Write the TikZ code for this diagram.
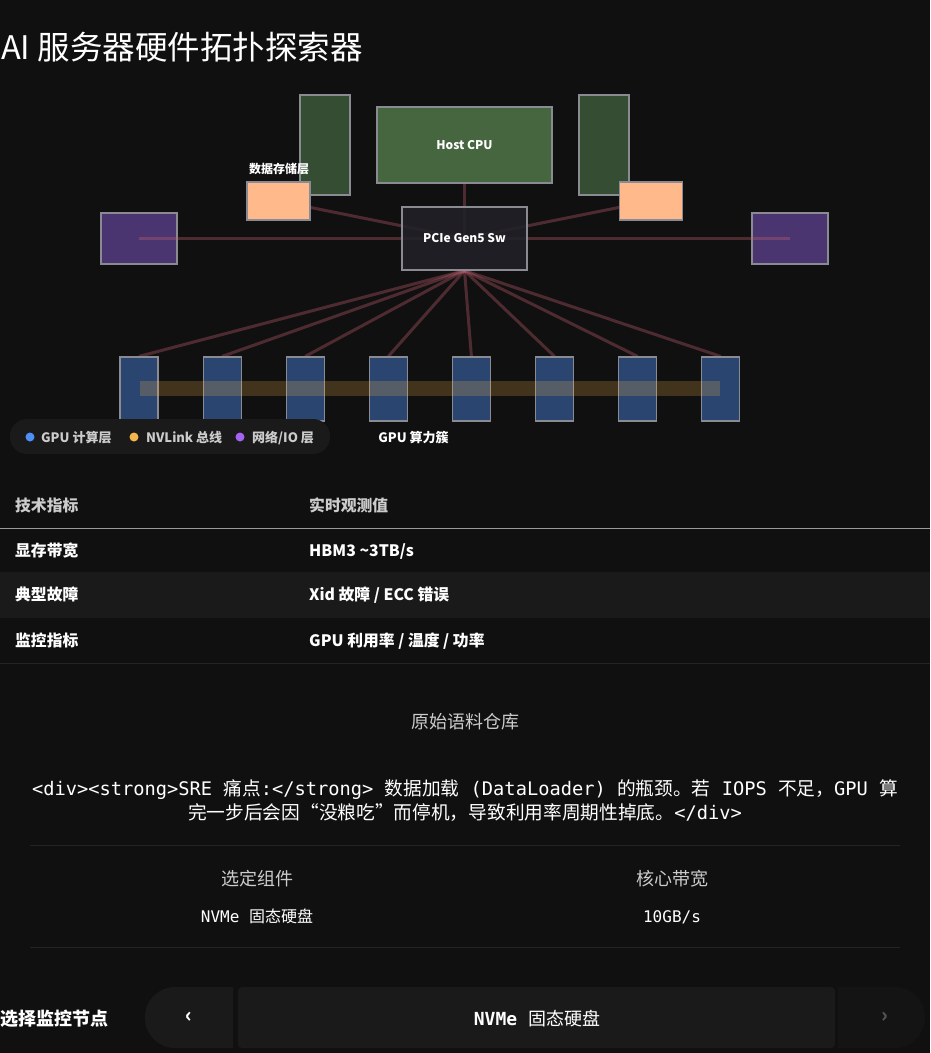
\documentclass[tikz,border=0pt]{standalone}
\usepackage{fontspec}
\setmainfont{Noto Sans CJK SC}
\setmonofont{DejaVu Sans Mono}
\usetikzlibrary{positioning}

\definecolor{pagebg}{HTML}{101010}
\definecolor{framegray}{HTML}{8A8A92}
\definecolor{darkgreen}{HTML}{344D33}
\definecolor{cpugreen}{HTML}{46663F}
\definecolor{ssdorange}{HTML}{FFB98A}
\definecolor{nicpurple}{HTML}{4A3570}
\definecolor{swgray}{HTML}{202127}
\definecolor{gpublue}{HTML}{2A4570}
\definecolor{linkred}{HTML}{C06070}
\definecolor{nvgold}{HTML}{F5B54A}
\definecolor{pillgray}{HTML}{1A1A1A}
\definecolor{pilldark}{HTML}{141414}
\definecolor{textgray}{HTML}{CCCCCC}
\definecolor{dotblue}{HTML}{4D8EF7}
\definecolor{dotorange}{HTML}{F5B54A}
\definecolor{dotpurple}{HTML}{A463F5}
\definecolor{headrule}{HTML}{9A9A9A}
\definecolor{faintrule}{HTML}{242424}
\definecolor{rowgray}{HTML}{1A1A1A}
\definecolor{arrowgray}{HTML}{555555}

\newcommand\fsz[1]{\fontsize{#1}{#1}\selectfont}
\newcommand\mt[1]{{\ttfamily #1}}

\pgfdeclarelayer{bg}
\pgfdeclarelayer{lower}
\pgfdeclarelayer{links}
\pgfsetlayers{bg,lower,links,main}

\begin{document}
\begin{tikzpicture}[x=1pt, y=-1pt,
  box/.style={draw=framegray, line width=1.2pt, inner sep=0pt},
  tallbox/.style={box, fill=darkgreen, minimum width=50pt, minimum height=100pt},
  ssd/.style={box, fill=ssdorange, minimum width=63pt, minimum height=38pt},
  nic/.style={box, fill=nicpurple, minimum width=76pt, minimum height=51pt},
  gpu/.style={box, fill=gpublue, minimum width=38pt, minimum height=64pt},
  link/.style={draw=linkred, draw opacity=0.35, line width=3pt},
  tag/.style={text=white, font=\bfseries\fsz{12}},
  legdot/.style={circle, minimum size=9pt, inner sep=0pt},
  legtxt/.style={text=textgray, font=\bfseries\fsz{13}, anchor=base west, inner sep=0pt},
  head/.style={text=textgray, font=\bfseries\fsz{15.8}, anchor=base west, inner sep=0pt},
  cell/.style={text=white, font=\bfseries\fsz{15.8}, anchor=base west, inner sep=0pt},
  center text/.style={anchor=base, inner sep=0pt}]
  % fondo
  \begin{pgfonlayer}{bg}
    \fill[pagebg] (0,0) rectangle (930,1053);
  \end{pgfonlayer}
  \useasboundingbox (0,0) rectangle (930,1053);
  \node[anchor=base west, inner sep=0pt, text=white, font=\fsz{32.5}] (title) at (1,59) {AI 服务器硬件拓扑探索器};

  % host
  \node[tallbox] (mem1) at (325,145) {};
  \node[tallbox] (mem2) at (604,145) {};
  \node[box, fill=cpugreen, minimum width=175pt, minimum height=76pt, tag] (cpu) at (464.5,145) {Host CPU};
  % almacenamiento
  \node[ssd] (ssd1) at (278.5,201) {};
  \node[ssd] (ssd2) at (651,201) {};
  \node[tag, center text] (ssdlbl) at (279,173.5) {数据存储层};
  % red
  \begin{pgfonlayer}{lower}
    \node[nic] (nic1) at (139,238.5) {};
    \node[nic] (nic2) at (790,238.5) {};
  \end{pgfonlayer}
  % switch
  \node[box, fill=swgray, fill opacity=0.88, text opacity=1, minimum width=125pt, minimum height=63pt, tag] (sw) at (464.5,238.5) {PCIe Gen5 Sw};

  % gpus
  \foreach \i in {1,...,8}
    \node[gpu] (gpu\i) at ({139+83.1*(\i-1)},389) {};
  \node[fill=nvgold, fill opacity=0.22, minimum width=580pt, minimum height=15pt, inner sep=0pt] (nvlink) at (430,388.5) {};
  \node[tag, font=\bfseries\fsz{13}, center text] (gpulbl) at (413.5,442) {GPU 算力簇};

  % enlaces
  \begin{pgfonlayer}{links}
    \draw[link] (cpu.south) -- (sw.center);
    \draw[link] (ssd1.center) -- (sw.center);
    \draw[link] (ssd2.center) -- (sw.center);
    \draw[link] (nic1.center) -- (sw.center);
    \draw[link] (nic2.center) -- (sw.center);
    \foreach \i in {1,...,8}
      \draw[link] (sw.south) -- (gpu\i.north);
  \end{pgfonlayer}

  % leyenda
  \node[fill=pillgray, rounded corners=17pt, minimum width=320pt, minimum height=35pt, inner sep=0pt] (legend) at (170,436.5) {};
  \node[legdot, fill=dotblue] (dot1) at (30,437) {};
  \node[legtxt] (leg1) at (41,442) {GPU 计算层};
  \node[legdot, fill=dotorange] (dot2) at (134,437) {};
  \node[legtxt] (leg2) at (146,442) {NVLink 总线};
  \node[legdot, fill=dotpurple] (dot3) at (240,437) {};
  \node[legtxt] (leg3) at (252,442) {网络/IO 层};

  % tabla
  \node[head] (th1) at (15,511) {技术指标};
  \node[head] (th2) at (309,511) {实时观测值};
  \draw[headrule, line width=1pt] (0,528) -- (930,528);
  \fill[rowgray] (0,572) rectangle (930,618);
  \draw[faintrule, line width=1pt] (0,663) -- (930,663);
  \node[cell] (r1a) at (15,556) {显存带宽};
  \node[cell] (r1b) at (309,556) {HBM3 \textasciitilde3TB/s};
  \node[cell] (r2a) at (15,600) {典型故障};
  \node[cell] (r2b) at (309,600) {Xid 故障 / ECC 错误};
  \node[cell] (r3a) at (15,646) {监控指标};
  \node[cell] (r3b) at (309,646) {GPU 利用率 / 温度 / 功率};

  % corpus
  \node[center text, text=textgray, font=\fsz{18}] (corpus) at (465,728) {原始语料仓库};
  \node[center text, text=white, font=\fsz{18.7}] (para1) at (465,795)
    {\mt{<div><strong>SRE\ }痛点\mt{:</strong>\ }数据加载\mt{\ (DataLoader)\ }的瓶颈。若\mt{\ IOPS\ }不足，\mt{GPU\ }算};
  \node[center text, text=white, font=\fsz{18.7}] (para2) at (465,819)
    {完一步后会因“没粮吃”而停机，导致利用率周期性掉底。\mt{</div>}};
  \draw[faintrule, line width=1pt] (30,845) -- (900,845);
  \node[center text, text=textgray, font=\fsz{18}] (selh) at (257,885) {选定组件};
  \node[center text, text=textgray, font=\fsz{18}] (bwh) at (672,885) {核心带宽};
  \node[center text, text=white, font=\fsz{16}] (selv) at (257,922) {\mt{NVMe\ }固态硬盘};
  \node[center text, text=white, font=\fsz{16}] (bwv) at (672,922) {\mt{10GB/s}};
  \draw[faintrule, line width=1pt] (30,947) -- (900,947);

  % selector
  \node[anchor=base west, inner sep=0pt, text=white, font=\bfseries\fsz{18}] (pick) at (0,1025) {选择监控节点};
  \begin{scope}
    \clip (140,980) rectangle (233,1053);
    \fill[pillgray, rounded corners=30pt] (145,987) rectangle (300,1048);
  \end{scope}
  \begin{scope}
    \clip (838,980) rectangle (930,1053);
    \fill[pilldark, rounded corners=30pt] (780,987) rectangle (925,1048);
  \end{scope}
  \node[fill=rowgray, rounded corners=4pt, minimum width=597pt, minimum height=61pt, inner sep=0pt] (selbox) at (536.5,1017.5) {};
  \node[center text, text=white, font=\fsz{18}] (selname) at (537,1025) {\mt{\bfseries NVMe\ }固态硬盘};
  \node[text=white, font=\bfseries\fsz{20}] (prev) at (189,1017) {‹};
  \node[text=arrowgray, font=\bfseries\fsz{20}] (next) at (885,1017) {›};
\end{tikzpicture}
\end{document}
